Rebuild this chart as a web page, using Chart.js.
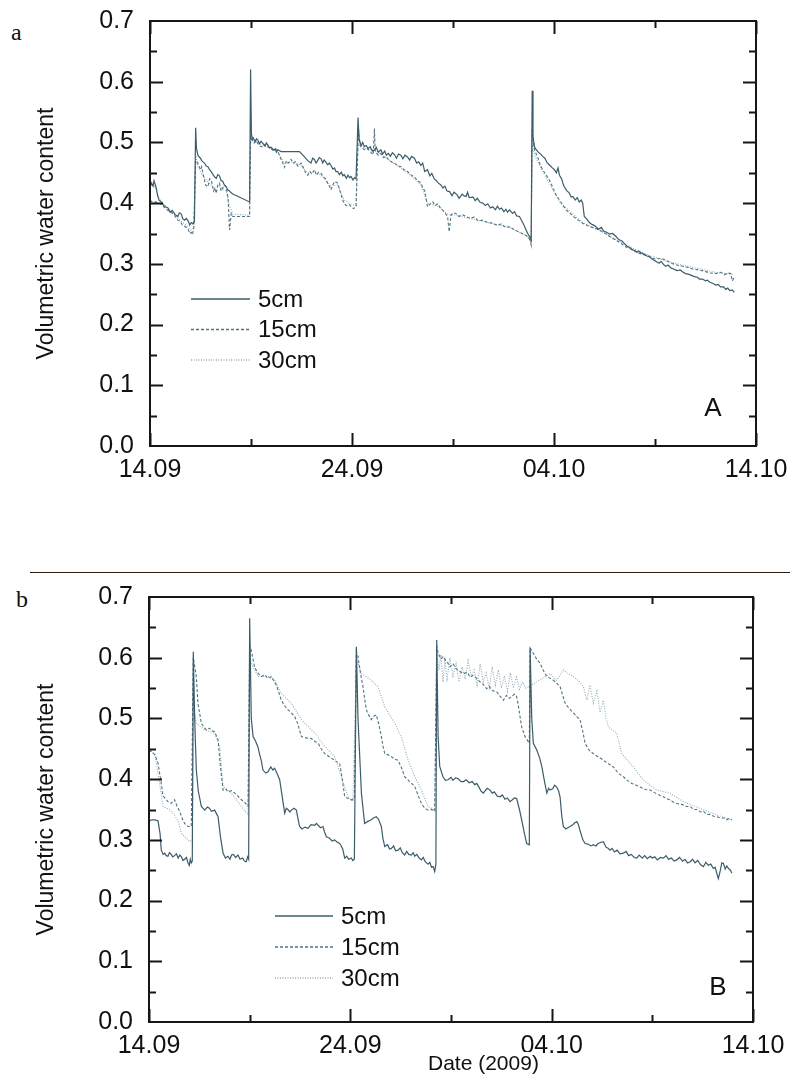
<!DOCTYPE html>
<html><head><meta charset="utf-8">
<script src="https://cdn.jsdelivr.net/npm/chart.js@4.4.1/dist/chart.umd.min.js"></script>
<style>
html,body{margin:0;padding:0;background:#fff;}
#page{position:relative;width:790px;height:1077px;overflow:hidden;background:#fff;font-family:"Liberation Sans",Arial,sans-serif;}
canvas{position:absolute;left:0;}
.lbl{position:absolute;font-family:"Liberation Serif","DejaVu Serif",serif;font-size:24px;color:#111;line-height:1;}
#rule{position:absolute;left:30px;top:572px;width:760px;height:1px;background:#2a1d15;}
#xt{position:absolute;left:426px;top:1052px;background:#fff;font-size:21px;line-height:1;color:#111;padding:0 2px;}
</style></head>
<body><div id="page">
<div class="lbl" style="left:11px;top:20px">a</div>
<canvas id="cA" width="790" height="545" style="top:0"></canvas>
<div id="rule"></div>
<div class="lbl" style="left:16px;top:587px">b</div>
<canvas id="cB" width="790" height="501" style="top:576px"></canvas>
<div id="xt">Date (2009)</div>
</div>
<script>
// x axis: days since 14.09.2009 00:00
const xTickLabels = ['14.09', '24.09', '04.10', '14.10'];
const xMajorTicks = [0, 10, 20, 30];
const xMinorTicks = [5, 15, 25];
const yMajorTicks = [0.1, 0.2, 0.3, 0.4, 0.5, 0.6];
const yMinorTicks = [0.05, 0.15, 0.25, 0.35, 0.45, 0.55, 0.65];
const seriesNames = ['5cm', '15cm', '30cm'];

// Panel A  [day, volumetric water content]
const a5 = [[0,0.425],[0.07,0.433],[0.15,0.428],[0.2,0.437],[0.31,0.425],[0.38,0.412],[0.45,0.405],[0.55,0.402],[0.64,0.398],[0.75,0.394],[0.89,0.392],[1.0,0.385],[1.1,0.388],[1.25,0.381],[1.38,0.378],[1.45,0.384],[1.55,0.382],[1.63,0.374],[1.71,0.372],[1.8,0.375],[1.9,0.37],[1.97,0.364],[2.04,0.368],[2.12,0.366],[2.2,0.37],
 [2.26,0.524],[2.3,0.49],[2.37,0.479],[2.44,0.476],[2.5,0.474],[2.56,0.47],[2.62,0.468],[2.7,0.466],[2.78,0.461],[2.87,0.46],[2.95,0.455],[3.03,0.452],[3.12,0.447],[3.2,0.443],[3.28,0.441],[3.36,0.447],[3.44,0.445],[3.52,0.437],[3.6,0.436],[3.68,0.43],[3.77,0.427],[3.85,0.422],[3.94,0.42],[4.02,0.417],[4.1,0.415],[4.93,0.402],
 [4.98,0.62],[5.02,0.515],[5.06,0.505],[5.1,0.508],[5.2,0.501],[5.27,0.506],[5.34,0.504],[5.42,0.498],[5.5,0.502],[5.6,0.498],[5.7,0.494],[5.76,0.499],[5.83,0.496],[5.92,0.491],[6.0,0.492],[6.1,0.488],[6.2,0.489],[6.26,0.484],[6.33,0.488],[6.49,0.485],[7.4,0.485],[7.6,0.478],[7.81,0.47],[7.97,0.466],[8.05,0.474],[8.14,0.472],[8.22,0.466],[8.3,0.47],[8.38,0.475],[8.47,0.473],[8.55,0.466],[8.62,0.471],[8.7,0.468],[8.8,0.463],[8.88,0.466],[8.96,0.462],[9.05,0.456],[9.13,0.458],[9.21,0.452],[9.29,0.452],[9.38,0.447],[9.47,0.451],[9.55,0.445],[9.62,0.447],[9.72,0.441],[9.8,0.446],[9.88,0.442],[9.95,0.444],[10.05,0.438],[10.12,0.442],[10.2,0.44],
 [10.3,0.541],[10.35,0.505],[10.45,0.495],[10.53,0.5],[10.61,0.493],[10.7,0.495],[10.8,0.49],[10.9,0.493],[11.0,0.486],[11.11,0.487],[11.2,0.492],[11.3,0.484],[11.43,0.488],[11.52,0.481],[11.62,0.486],[11.7,0.479],[11.8,0.482],[11.9,0.477],[12.0,0.483],[12.1,0.48],[12.2,0.474],[12.3,0.481],[12.42,0.479],[12.52,0.473],[12.62,0.479],[12.75,0.476],[12.85,0.471],[12.95,0.477],[13.09,0.474],[13.2,0.466],[13.3,0.468],[13.41,0.462],[13.5,0.466],[13.6,0.452],[13.74,0.455],[13.85,0.445],[13.95,0.449],[14.07,0.44],[14.18,0.437],[14.28,0.433],[14.4,0.43],[14.5,0.425],[14.6,0.428],[14.7,0.42],[14.83,0.419],[14.95,0.412],[15.05,0.418],[15.2,0.414],[15.3,0.408],[15.45,0.415],[15.55,0.412],[15.65,0.411],[15.72,0.418],[15.8,0.409],[16.0,0.41],[16.1,0.404],[16.2,0.408],[16.35,0.401],[16.48,0.4],[16.6,0.396],[16.72,0.399],[16.85,0.392],[16.97,0.394],[17.1,0.389],[17.2,0.395],[17.3,0.39],[17.4,0.392],[17.52,0.386],[17.62,0.39],[17.7,0.385],[17.8,0.389],[17.95,0.383],[18.05,0.386],[18.15,0.379],[18.29,0.378],[18.4,0.371],[18.5,0.365],[18.6,0.357],[18.7,0.35],[18.8,0.344],[18.87,0.339],
 [18.92,0.585],[18.96,0.51],[19.03,0.493],[19.12,0.488],[19.22,0.484],[19.33,0.481],[19.44,0.477],[19.55,0.474],[19.65,0.467],[19.8,0.462],[19.92,0.458],[20.02,0.455],[20.12,0.45],[20.2,0.458],[20.27,0.446],[20.38,0.44],[20.45,0.432],[20.51,0.427],[20.62,0.421],[20.75,0.417],[20.85,0.41],[20.93,0.411],[21.05,0.405],[21.15,0.409],[21.25,0.402],[21.35,0.405],[21.42,0.4],[21.5,0.378],[21.62,0.374],[21.75,0.368],[21.88,0.365],[22.0,0.363],[22.08,0.361],[22.2,0.357],[22.35,0.36],[22.45,0.354],[22.6,0.352],[22.75,0.349],[22.9,0.35],[23.07,0.345],[23.2,0.34],[23.35,0.338],[23.5,0.333],[23.62,0.329],[23.75,0.327],[23.89,0.323],[24.0,0.322],[24.12,0.319],[24.2,0.321],[24.3,0.318],[24.45,0.316],[24.6,0.313],[24.72,0.312],[24.85,0.308],[24.95,0.306],[25.1,0.303],[25.2,0.301],[25.3,0.304],[25.45,0.298],[25.54,0.296],[25.65,0.298],[25.8,0.293],[25.9,0.292],[26.0,0.29],[26.1,0.289],[26.25,0.29],[26.36,0.287],[26.5,0.284],[26.65,0.283],[26.8,0.281],[26.95,0.279],[27.1,0.278],[27.2,0.275],[27.35,0.275],[27.5,0.272],[27.6,0.273],[27.7,0.27],[27.85,0.268],[28.01,0.265],[28.12,0.266],[28.25,0.262],[28.4,0.262],[28.5,0.258],[28.6,0.26],[28.7,0.256],[28.83,0.257],[28.92,0.253]];
const a15 = [[0,0.405],[0.15,0.401],[0.31,0.402],[0.45,0.4],[0.64,0.396],[0.75,0.391],[0.89,0.388],[1.05,0.385],[1.2,0.38],[1.3,0.376],[1.38,0.372],[1.5,0.37],[1.6,0.364],[1.71,0.362],[1.8,0.36],[1.9,0.356],[1.97,0.35],[2.04,0.352],[2.1,0.348],[2.17,0.36],
 [2.26,0.47],[2.37,0.466],[2.5,0.455],[2.56,0.46],[2.62,0.449],[2.75,0.43],[2.87,0.427],[2.95,0.44],[3.03,0.438],[3.15,0.42],[3.22,0.425],[3.28,0.416],[3.36,0.43],[3.44,0.433],[3.52,0.42],[3.6,0.425],[3.68,0.43],[3.77,0.427],[3.86,0.41],[3.94,0.356],[4.02,0.383],[4.1,0.378],[4.93,0.378],
 [4.98,0.51],[5.04,0.505],[5.15,0.499],[5.25,0.503],[5.34,0.498],[5.45,0.494],[5.6,0.492],[5.7,0.497],[5.83,0.494],[5.95,0.49],[6.1,0.487],[6.2,0.49],[6.33,0.485],[6.45,0.475],[6.55,0.468],[6.66,0.459],[6.75,0.47],[6.85,0.466],[6.98,0.472],[7.1,0.466],[7.2,0.468],[7.32,0.461],[7.48,0.466],[7.6,0.458],[7.7,0.45],[7.81,0.446],[7.92,0.452],[8.02,0.448],[8.14,0.455],[8.25,0.446],[8.35,0.451],[8.47,0.449],[8.58,0.443],[8.7,0.44],[8.8,0.432],[8.88,0.428],[8.96,0.422],[9.05,0.43],[9.15,0.436],[9.29,0.433],[9.37,0.424],[9.45,0.415],[9.53,0.406],[9.62,0.399],[9.72,0.396],[9.85,0.398],[9.95,0.394],[10.08,0.391],[10.2,0.394],
 [10.32,0.52],[10.4,0.495],[10.5,0.491],[10.61,0.488],[10.75,0.49],[10.9,0.485],[11.05,0.48],[11.11,0.523],[11.15,0.485],[11.3,0.479],[11.43,0.482],[11.55,0.475],[11.68,0.477],[11.8,0.472],[11.95,0.468],[12.1,0.466],[12.25,0.462],[12.42,0.46],[12.58,0.455],[12.75,0.452],[12.9,0.447],[13.09,0.443],[13.25,0.437],[13.41,0.433],[13.5,0.426],[13.6,0.42],[13.68,0.405],[13.74,0.394],[13.85,0.398],[14.0,0.402],[14.12,0.396],[14.24,0.399],[14.38,0.392],[14.5,0.388],[14.62,0.383],[14.73,0.378],[14.81,0.353],[14.9,0.38],[15.02,0.384],[15.14,0.383],[15.3,0.378],[15.45,0.381],[15.65,0.378],[15.85,0.375],[16.05,0.377],[16.25,0.371],[16.48,0.372],[16.7,0.368],[16.97,0.367],[17.2,0.363],[17.4,0.366],[17.6,0.36],[17.8,0.361],[18.05,0.356],[18.29,0.352],[18.5,0.349],[18.7,0.345],[18.8,0.34],[18.87,0.331],
 [18.92,0.52],[19.03,0.488],[19.2,0.475],[19.32,0.463],[19.44,0.455],[19.6,0.447],[19.77,0.438],[19.95,0.425],[20.1,0.414],[20.27,0.405],[20.45,0.396],[20.6,0.389],[20.8,0.383],[21.0,0.377],[21.2,0.372],[21.42,0.367],[21.65,0.363],[21.9,0.36],[22.24,0.356],[22.5,0.351],[22.8,0.344],[23.07,0.339],[23.35,0.333],[23.6,0.327],[23.89,0.323],[24.15,0.318],[24.45,0.315],[24.72,0.312],[25.0,0.308],[25.3,0.309],[25.54,0.306],[25.8,0.301],[26.1,0.298],[26.36,0.296],[26.65,0.294],[26.9,0.291],[27.19,0.29],[27.45,0.288],[27.7,0.285],[28.01,0.284],[28.25,0.286],[28.45,0.282],[28.6,0.285],[28.75,0.284],[28.83,0.272],[28.92,0.278]];
const a30 = [[0,0.438],[0.2,0.43],[0.45,0.408],[0.64,0.4],[0.89,0.392],[1.2,0.382],[1.38,0.375],[1.71,0.366],[1.9,0.36],[2.04,0.355],[2.17,0.362],[2.26,0.48],[2.37,0.46],[2.62,0.445],[2.87,0.435],[3.15,0.425],[3.44,0.428],[3.77,0.42],[3.94,0.395],[4.1,0.382],[4.93,0.38],[4.98,0.52],[5.04,0.508],[5.34,0.5],[5.83,0.492],[6.33,0.484],[6.66,0.465],[6.98,0.468],[7.48,0.462],[7.81,0.45],[8.14,0.452],[8.47,0.446],[8.96,0.428],[9.29,0.43],[9.62,0.405],[9.95,0.398],[10.2,0.396],[10.32,0.525],[10.4,0.498],[10.61,0.49],[11.11,0.488],[11.43,0.48],[12.1,0.465],[12.75,0.45],[13.41,0.43],[13.74,0.4],[14.24,0.395],[14.73,0.382],[15.14,0.38],[16.48,0.37],[17.8,0.36],[18.7,0.345],[18.87,0.335],[18.92,0.5],[19.03,0.48],[19.44,0.452],[20.27,0.402],[21.42,0.368],[22.24,0.355],[23.07,0.34],[23.89,0.326],[24.72,0.314],[25.54,0.305],[26.36,0.298],[27.19,0.292],[28.01,0.286],[28.92,0.282]];

// Panel B  [day, volumetric water content]
const b5 = [[0,0.33],[0.12,0.333],[0.3,0.333],[0.45,0.331],[0.55,0.31],[0.61,0.283],[0.7,0.276],[0.78,0.278],[0.86,0.274],[0.94,0.273],[1.02,0.279],[1.1,0.276],[1.18,0.272],[1.27,0.274],[1.36,0.277],[1.45,0.27],[1.53,0.275],[1.61,0.272],[1.69,0.266],[1.77,0.268],[1.86,0.271],[1.94,0.262],[2.0,0.258],[2.05,0.268],[2.1,0.262],[2.15,0.265],
 [2.2,0.61],[2.27,0.498],[2.35,0.415],[2.45,0.38],[2.6,0.355],[2.77,0.349],[2.9,0.354],[3.0,0.352],[3.1,0.347],[3.26,0.349],[3.43,0.338],[3.55,0.305],[3.68,0.278],[3.8,0.27],[3.92,0.273],[4.02,0.268],[4.1,0.275],[4.2,0.276],[4.3,0.271],[4.42,0.275],[4.52,0.268],[4.65,0.27],[4.74,0.265],[4.83,0.264],[4.9,0.272],[4.95,0.268],
 [5.0,0.665],[5.08,0.5],[5.17,0.47],[5.3,0.462],[5.41,0.453],[5.5,0.44],[5.58,0.43],[5.66,0.415],[5.8,0.41],[5.91,0.412],[6.05,0.42],[6.15,0.415],[6.24,0.418],[6.35,0.41],[6.49,0.399],[6.6,0.375],[6.74,0.344],[6.82,0.352],[6.9,0.35],[7.0,0.346],[7.07,0.349],[7.2,0.352],[7.32,0.349],[7.4,0.335],[7.48,0.322],[7.6,0.318],[7.75,0.321],[7.9,0.319],[8.05,0.325],[8.23,0.324],[8.32,0.327],[8.4,0.324],[8.52,0.32],[8.64,0.322],[8.72,0.313],[8.81,0.305],[8.95,0.303],[9.1,0.298],[9.22,0.3],[9.35,0.296],[9.47,0.294],[9.55,0.29],[9.62,0.285],[9.68,0.276],[9.72,0.27],[9.82,0.273],[9.92,0.268],[10.05,0.27],[10.12,0.266],[10.2,0.268],
 [10.3,0.618],[10.38,0.5],[10.55,0.377],[10.71,0.327],[10.85,0.33],[11.04,0.333],[11.15,0.336],[11.29,0.338],[11.4,0.334],[11.54,0.322],[11.62,0.302],[11.71,0.289],[11.85,0.292],[11.95,0.285],[12.04,0.286],[12.15,0.29],[12.25,0.282],[12.37,0.283],[12.48,0.287],[12.58,0.279],[12.7,0.275],[12.8,0.281],[12.9,0.276],[13.03,0.275],[13.12,0.279],[13.2,0.273],[13.3,0.276],[13.42,0.27],[13.53,0.267],[13.62,0.271],[13.72,0.264],[13.86,0.26],[13.95,0.263],[14.03,0.255],[14.11,0.256],[14.19,0.248],[14.25,0.26],
 [14.29,0.629],[14.36,0.47],[14.44,0.421],[14.6,0.404],[14.72,0.398],[14.85,0.399],[15.0,0.403],[15.1,0.398],[15.22,0.402],[15.35,0.401],[15.5,0.396],[15.62,0.396],[15.75,0.399],[15.9,0.394],[16.05,0.396],[16.18,0.391],[16.28,0.393],[16.4,0.386],[16.5,0.38],[16.61,0.377],[16.7,0.381],[16.8,0.385],[16.94,0.382],[17.05,0.377],[17.15,0.379],[17.3,0.372],[17.44,0.371],[17.55,0.374],[17.68,0.367],[17.8,0.369],[17.93,0.363],[18.05,0.366],[18.15,0.369],[18.26,0.368],[18.4,0.35],[18.51,0.333],[18.65,0.31],[18.76,0.294],[18.89,0.292],
 [18.93,0.616],[19.01,0.5],[19.09,0.459],[19.26,0.448],[19.4,0.435],[19.51,0.421],[19.65,0.395],[19.76,0.377],[19.85,0.385],[19.92,0.382],[20.05,0.384],[20.15,0.39],[20.25,0.387],[20.35,0.38],[20.42,0.37],[20.5,0.34],[20.58,0.322],[20.7,0.318],[20.8,0.32],[20.91,0.322],[21.05,0.325],[21.15,0.328],[21.25,0.33],[21.33,0.325],[21.41,0.315],[21.55,0.3],[21.66,0.294],[21.8,0.293],[21.95,0.29],[22.07,0.292],[22.2,0.29],[22.3,0.294],[22.45,0.296],[22.57,0.297],[22.7,0.288],[22.8,0.286],[22.9,0.283],[23.0,0.286],[23.12,0.28],[23.25,0.283],[23.4,0.277],[23.56,0.278],[23.7,0.281],[23.82,0.274],[23.95,0.276],[24.1,0.271],[24.23,0.27],[24.35,0.275],[24.5,0.27],[24.62,0.274],[24.75,0.269],[24.89,0.273],[25.0,0.27],[25.12,0.272],[25.25,0.267],[25.4,0.271],[25.55,0.27],[25.68,0.274],[25.8,0.268],[25.95,0.27],[26.08,0.265],[26.21,0.267],[26.35,0.271],[26.5,0.265],[26.62,0.268],[26.75,0.262],[26.88,0.264],[27.0,0.268],[27.12,0.262],[27.25,0.266],[27.4,0.259],[27.54,0.256],[27.66,0.263],[27.78,0.258],[27.9,0.26],[28.03,0.253],[28.12,0.255],[28.2,0.245],[28.28,0.236],[28.38,0.25],[28.45,0.262],[28.53,0.261],[28.62,0.252],[28.7,0.257],[28.78,0.253],[28.88,0.25],[28.95,0.245]];
const b15 = [[0,0.448],[0.12,0.445],[0.3,0.44],[0.45,0.426],[0.6,0.395],[0.7,0.372],[0.82,0.368],[0.94,0.363],[1.1,0.36],[1.27,0.366],[1.4,0.355],[1.52,0.347],[1.65,0.335],[1.77,0.327],[1.94,0.322],[2.1,0.322],
 [2.2,0.6],[2.35,0.569],[2.43,0.525],[2.6,0.492],[2.72,0.486],[2.85,0.481],[3.0,0.484],[3.1,0.48],[3.26,0.478],[3.43,0.465],[3.55,0.42],[3.68,0.382],[3.8,0.384],[3.92,0.379],[4.1,0.381],[4.26,0.377],[4.42,0.372],[4.59,0.366],[4.75,0.362],[4.92,0.355],
 [5.0,0.62],[5.08,0.612],[5.25,0.584],[5.4,0.575],[5.58,0.569],[5.75,0.572],[5.9,0.566],[6.08,0.569],[6.2,0.562],[6.32,0.555],[6.45,0.543],[6.57,0.53],[6.75,0.52],[6.91,0.514],[7.05,0.51],[7.24,0.503],[7.4,0.49],[7.57,0.47],[7.8,0.468],[8.06,0.467],[8.25,0.462],[8.4,0.459],[8.55,0.45],[8.73,0.442],[8.95,0.437],[9.22,0.431],[9.35,0.428],[9.47,0.426],[9.6,0.4],[9.72,0.371],[9.9,0.368],[10.05,0.366],[10.2,0.368],
 [10.3,0.61],[10.38,0.602],[10.5,0.575],[10.63,0.552],[10.72,0.53],[10.8,0.514],[10.92,0.505],[11.04,0.498],[11.15,0.503],[11.29,0.506],[11.42,0.49],[11.54,0.47],[11.62,0.455],[11.71,0.442],[11.88,0.44],[12.04,0.437],[12.2,0.433],[12.37,0.431],[12.55,0.418],[12.7,0.404],[12.95,0.396],[13.2,0.388],[13.38,0.372],[13.53,0.36],[13.7,0.352],[13.86,0.349],[14.05,0.35],[14.19,0.347],
 [14.29,0.62],[14.36,0.607],[14.5,0.598],[14.62,0.602],[14.75,0.594],[14.85,0.591],[14.95,0.585],[15.1,0.59],[15.25,0.582],[15.4,0.578],[15.62,0.574],[15.8,0.576],[15.95,0.568],[16.1,0.571],[16.28,0.566],[16.45,0.56],[16.6,0.556],[16.77,0.549],[16.9,0.553],[17.05,0.546],[17.27,0.544],[17.4,0.538],[17.6,0.53],[17.75,0.538],[17.9,0.533],[18.02,0.536],[18.15,0.54],[18.26,0.536],[18.35,0.52],[18.42,0.505],[18.51,0.486],[18.68,0.47],[18.89,0.459],
 [18.93,0.616],[19.09,0.607],[19.25,0.598],[19.42,0.591],[19.6,0.578],[19.76,0.569],[19.92,0.566],[20.08,0.563],[20.25,0.558],[20.42,0.552],[20.55,0.538],[20.67,0.525],[20.85,0.517],[21.08,0.509],[21.25,0.503],[21.41,0.498],[21.55,0.478],[21.66,0.459],[21.85,0.448],[22.07,0.442],[22.3,0.437],[22.45,0.434],[22.57,0.431],[22.8,0.426],[23.07,0.42],[23.3,0.41],[23.56,0.404],[23.75,0.398],[23.98,0.393],[24.2,0.39],[24.39,0.387],[24.65,0.383],[24.89,0.382],[25.05,0.379],[25.2,0.376],[25.4,0.373],[25.55,0.371],[25.7,0.368],[25.85,0.366],[26.05,0.362],[26.21,0.36],[26.5,0.358],[26.7,0.355],[26.88,0.355],[27.05,0.35],[27.2,0.35],[27.4,0.346],[27.54,0.347],[27.7,0.342],[27.85,0.342],[28.05,0.339],[28.2,0.338],[28.4,0.336],[28.55,0.336],[28.7,0.333],[28.8,0.335],[28.95,0.333]];
const b30 = [[0,0.45],[0.3,0.44],[0.45,0.41],[0.7,0.355],[1.0,0.35],[1.27,0.341],[1.45,0.33],[1.61,0.311],[2.02,0.297],[2.15,0.3],[2.22,0.52],[2.35,0.492],[2.77,0.481],[3.26,0.476],[3.51,0.454],[3.68,0.388],[4.09,0.377],[4.59,0.355],[4.92,0.341],[5.0,0.6],[5.08,0.591],[5.41,0.569],[5.91,0.569],[6.24,0.563],[6.57,0.541],[7.07,0.525],[7.57,0.498],[8.23,0.476],[8.73,0.454],[9.22,0.437],[9.55,0.404],[9.89,0.371],[10.13,0.363],[10.3,0.6],[10.55,0.574],[11.04,0.563],[11.38,0.552],[11.71,0.519],[12.21,0.492],[12.53,0.47],[12.87,0.431],[13.2,0.404],[13.53,0.382],[13.86,0.355],[14.19,0.349],[14.29,0.61],[14.4,0.58],[14.5,0.605],[14.6,0.56],[14.7,0.595],[14.8,0.565],[14.95,0.6],[15.1,0.57],[15.25,0.59],[15.4,0.56],[15.55,0.585],[15.7,0.565],[15.85,0.595],[16.0,0.57],[16.15,0.58],[16.3,0.555],[16.45,0.59],[16.6,0.56],[16.75,0.575],[16.9,0.55],[17.05,0.585],[17.2,0.555],[17.35,0.58],[17.5,0.55],[17.65,0.57],[17.8,0.545],[17.95,0.575],[18.1,0.55],[18.25,0.568],[18.4,0.548],[18.55,0.56],[18.7,0.55],[18.85,0.552],[19.92,0.574],[20.25,0.563],[20.58,0.58],[20.75,0.575],[21.08,0.569],[21.41,0.56],[21.58,0.552],[21.75,0.53],[21.9,0.555],[22.07,0.525],[22.25,0.545],[22.4,0.51],[22.57,0.53],[22.7,0.5],[22.82,0.486],[23.23,0.476],[23.48,0.442],[24.06,0.42],[24.56,0.398],[25.22,0.382],[25.88,0.377],[26.54,0.363],[27.37,0.352],[28.2,0.341],[28.95,0.333]];

const FONT = '"Liberation Sans", Arial, Helvetica, sans-serif';
const styles = [
  {color: '#3c5c6a', dash: [], width: 1.2},
  {color: '#4f7382', dash: [3, 2], width: 1.1},
  {color: '#93abb7', dash: [1, 1.5], width: 1.1}
];

function toPts(arr) { return arr.map(p => ({x: p[0], y: p[1]})); }

const framePlugin = {
  id: 'frame',
  afterDatasetsDraw(chart, args, o) {
    const {ctx, chartArea: a} = chart;
    const xs = chart.scales.x, ys = chart.scales.y;
    ctx.save();
    ctx.strokeStyle = '#161616';
    ctx.lineWidth = 2;
    ctx.beginPath();
    const xt = (v, len) => { const px = Math.round(xs.getPixelForValue(v)) + 0.5;
      ctx.moveTo(px, a.bottom); ctx.lineTo(px, a.bottom - len);
      ctx.moveTo(px, a.top); ctx.lineTo(px, a.top + len); };
    const yt = (v, len) => { const py = Math.round(ys.getPixelForValue(v)) + 0.5;
      ctx.moveTo(a.left, py); ctx.lineTo(a.left + len, py);
      ctx.moveTo(a.right, py); ctx.lineTo(a.right - len, py); };
    xMajorTicks.forEach(v => xt(v, 13));
    xMinorTicks.forEach(v => xt(v, 7));
    yMajorTicks.forEach(v => yt(v, 13));
    yMinorTicks.forEach(v => yt(v, 7));
    ctx.stroke();
    ctx.strokeRect(a.left, a.top, a.right - a.left, a.bottom - a.top);
    // legend
    ctx.font = '24px ' + FONT;
    ctx.textBaseline = 'middle';
    ctx.textAlign = 'left';
    ctx.fillStyle = '#111';
    chart.data.datasets.forEach((d, i) => {
      const yy = o.legY + i * o.legDy;
      ctx.strokeStyle = d.borderColor;
      ctx.lineWidth = 1.3;
      ctx.setLineDash(d.borderDash || []);
      ctx.beginPath(); ctx.moveTo(o.legX0, yy); ctx.lineTo(o.legX1, yy); ctx.stroke();
      ctx.setLineDash([]);
      ctx.fillText(d.label, o.legTx, yy + 1);
    });
    ctx.font = '26px ' + FONT;
    ctx.textAlign = 'center';
    ctx.fillText(o.tag, o.tagX, o.tagY);
    ctx.restore();
  }
};

function zeroPad(s) { s.paddingTop = 0; s.paddingBottom = 0; s.paddingLeft = 0; s.paddingRight = 0; }

function makeChart(id, series, cfg) {
  const datasets = series.map((s, i) => ({
    label: seriesNames[i],
    data: toPts(s),
    borderColor: styles[i].color,
    borderDash: styles[i].dash,
    borderWidth: styles[i].width,
    pointRadius: 0,
    tension: 0,
    fill: false,
    order: i
  }));
  return new Chart(document.getElementById(id), {
    type: 'line',
    data: { datasets: datasets },
    options: {
      responsive: false,
      animation: false,
      devicePixelRatio: 1,
      layout: { padding: { left: 0, top: cfg.top, right: cfg.right, bottom: 0 } },
      plugins: {
        legend: { display: false },
        tooltip: { enabled: false },
        frame: cfg.frame
      },
      scales: {
        x: {
          type: 'linear', min: 0, max: 30,
          afterFit(s) { s.height = cfg.xh; zeroPad(s); },
          grid: { display: false, drawTicks: false },
          border: { display: false },
          ticks: {
            stepSize: 10, autoSkip: false, maxRotation: 0, minRotation: 0, padding: 9,
            color: '#111', font: { family: FONT, size: 25 },
            callback: v => (v % 10 === 0 ? xTickLabels[Math.round(v / 10)] : '')
          }
        },
        y: {
          type: 'linear', min: 0, max: 0.7,
          afterFit(s) { s.width = cfg.left; zeroPad(s); },
          grid: { display: false, drawTicks: false },
          border: { display: false },
          ticks: {
            stepSize: 0.1, padding: 16, color: '#111', font: { family: FONT, size: 25 },
            callback: v => v.toFixed(1)
          },
          title: {
            display: true, text: 'Volumetric water content', color: '#111',
            font: { family: FONT, size: 23 }, padding: { top: 33, bottom: 0 }
          }
        }
      }
    },
    plugins: [framePlugin]
  });
}

makeChart('cA', [a5, a15, a30], {
  top: 21, right: 34, left: 150, xh: 99,
  frame: { legX0: 191, legX1: 250, legTx: 258, legY: 299, legDy: 30.5, tag: 'A', tagX: 713, tagY: 409 }
});
makeChart('cB', [b5, b15, b30], {
  top: 21, right: 37, left: 149, xh: 55,
  frame: { legX0: 275, legX1: 333, legTx: 341, legY: 340, legDy: 31, tag: 'B', tagX: 718, tagY: 412 }
});
</script>
</body></html>
